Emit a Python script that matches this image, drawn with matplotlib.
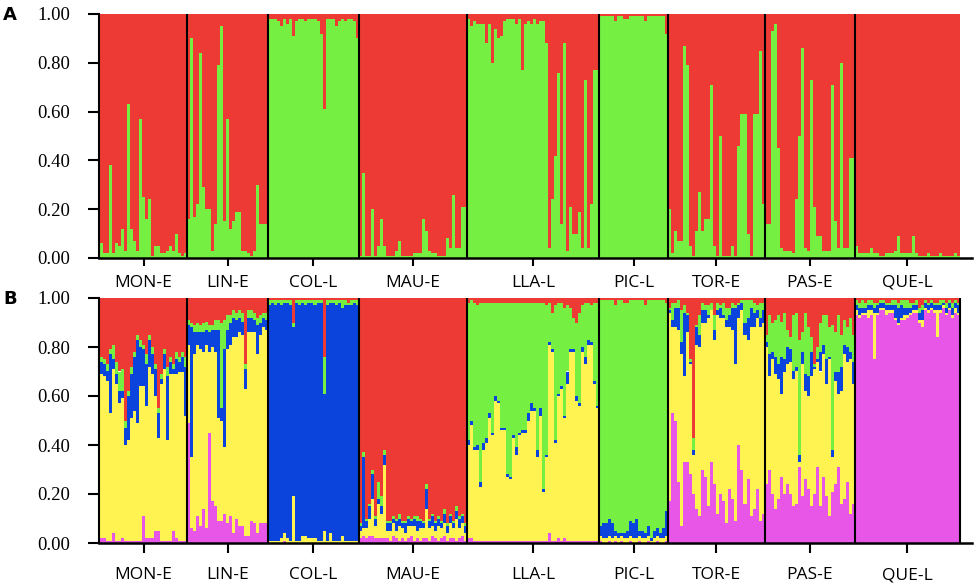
import numpy as np
import matplotlib
matplotlib.use("Agg")
import matplotlib.pyplot as plt

populations = ["MON-E", "LIN-E", "COL-L", "MAU-E", "LLA-L", "PIC-L", "TOR-E", "PAS-E", "QUE-L"]

# Panel A (K=2): green share per individual in %, red is the rest
mon_a = [6, 2, 2, 38, 2, 6, 5, 12, 3, 63, 12, 7, 3, 57, 25, 16, 24, 1, 5, 5, 2, 2, 3, 5, 3, 10, 2, 1, 2]
lin_a = [16, 90, 17, 22, 84, 29, 20, 20, 3, 14, 79, 95, 15, 57, 12, 15, 19, 19, 3, 3, 2, 1, 3, 30, 14, 14, 14]
col_a = [98, 98, 98, 97, 95, 98, 96, 98, 91, 97, 98, 98, 97, 98, 98, 98, 97, 92, 61, 98,
         98, 98, 95, 97, 98, 97, 98, 98, 97, 90]
mau_a = [1, 35, 1, 1, 20, 1, 5, 16, 5, 1, 1, 1, 3, 7, 1, 1, 1, 1, 2, 2,
         2, 16, 11, 3, 2, 2, 1, 1, 1, 8, 4, 26, 4, 4, 21, 21]
lla_a = [98, 95, 97, 96, 96, 96, 88, 96, 80, 94, 90, 91, 97, 98, 98, 98, 96, 98, 77, 96,
         97, 96, 98, 96, 97, 97, 88, 4, 24, 42, 76, 14, 88, 3, 21, 10, 10, 19, 4, 73,
         4, 22, 77, 77]
pic_a = [99, 99, 99, 99, 99, 97, 99, 99, 98, 98, 99, 99, 99, 99, 99, 97, 99, 99, 99, 99, 99, 99, 92]
tor_a = [20, 2, 11, 7, 7, 87, 79, 5, 1, 11, 27, 11, 16, 16, 71, 5, 1, 50, 1, 1,
         1, 5, 1, 46, 59, 59, 10, 1, 59, 59, 85, 22]
pas_a = [14, 14, 93, 96, 45, 4, 3, 3, 3, 2, 24, 50, 86, 4, 3, 73, 21, 9, 9, 3,
         3, 3, 71, 15, 4, 80, 4, 4, 41, 41]
que_a = [5, 2, 2, 2, 2, 4, 2, 2, 1, 1, 2, 2, 2, 3, 9, 2, 2, 2, 2, 9,
         2, 1, 1, 1, 2, 1, 1, 1, 2, 1, 1, 1, 1, 2, 1]

# Panel B (K=5): cluster shares in %, the cluster in fill_b takes the rest
mon_b = dict(
    red=[24, 25, 27, 21, 19, 26, 30, 29, 50, 38, 28, 22, 15, 17, 19, 23, 15, 20, 27, 45, 31, 21, 28, 24, 27, 22, 24, 22, 24],
    green=[2, 2, 3, 2, 6, 5, 8, 9, 3, 2, 3, 2, 2, 3, 2, 4, 2, 3, 2, 2, 2, 2, 4, 2, 2, 3, 2, 2, 4],
    blue=[5, 5, 4, 24, 4, 4, 5, 3, 7, 18, 18, 22, 34, 16, 15, 17, 11, 8, 11, 10, 2, 6, 26, 5, 2, 6, 4, 6, 20],
    magenta=[2, 2, 1, 1, 4, 1, 1, 2, 1, 1, 1, 1, 1, 1, 11, 2, 2, 2, 5, 5, 1, 1, 1, 1, 5, 2, 1, 1, 1],
)
lin_b = dict(
    red=[9, 10, 11, 10, 11, 10, 10, 11, 11, 9, 9, 10, 9, 7, 7, 5, 6, 5, 6, 27, 5, 5, 6, 8, 7, 6, 6],
    green=[2, 2, 3, 4, 3, 4, 3, 3, 2, 4, 4, 35, 12, 6, 3, 3, 3, 3, 4, 2, 3, 3, 3, 3, 3, 2, 3],
    blue=[8, 53, 9, 5, 7, 8, 6, 8, 7, 9, 36, 5, 40, 8, 9, 8, 7, 6, 5, 8, 6, 6, 5, 12, 5, 4, 4],
    magenta=[49, 6, 5, 11, 7, 14, 6, 45, 17, 15, 9, 9, 12, 8, 11, 4, 10, 7, 7, 3, 3, 9, 8, 4, 8, 8, 8],
)
col_b = dict(
    red=[1, 1, 1, 1, 1, 1, 1, 1, 10, 1, 1, 1, 1, 1, 1, 1, 1, 1, 24, 1, 1, 1, 1, 1, 1, 1, 2, 1, 1, 1],
    green=[2, 1, 2, 1, 2, 1, 1, 2, 2, 1, 2, 1, 2, 1, 1, 2, 1, 1, 15, 2, 1, 1, 2, 1, 3, 2, 1, 2, 1, 2],
    yellow=[1, 1, 1, 1, 2, 3, 2, 1, 19, 1, 1, 3, 3, 2, 2, 2, 1, 1, 5, 1, 4, 1, 1, 1, 3, 1, 1, 1, 1, 1],
    magenta=[0, 0, 0, 0, 0, 1, 0, 0, 0, 0, 0, 0, 0, 0, 0, 0, 0, 0, 0, 0, 0, 0, 0, 0, 0, 0, 0, 0, 0, 0],
)
mau_b = dict(
    green=[1, 2, 1, 1, 2, 1, 7, 4, 2, 1, 1, 1, 1, 2, 1, 1, 1, 1, 1, 2, 1, 1, 2, 1, 1, 1, 1, 1, 2, 1, 1, 1, 2, 1, 1, 1],
    blue=[2, 29, 3, 5, 10, 3, 2, 3, 4, 3, 3, 2, 4, 3, 2, 4, 3, 2, 3, 4, 3, 2, 8, 3, 4, 3, 3, 2, 4, 3, 3, 2, 3, 4, 3, 3],
    yellow=[3, 3, 4, 7, 15, 5, 14, 10, 30, 3, 4, 5, 3, 6, 4, 3, 5, 4, 6, 3, 5, 4, 12, 5, 4, 3, 6, 4, 5, 3, 6, 4, 9, 4, 5, 3],
    magenta=[2, 3, 2, 3, 3, 2, 2, 2, 2, 2, 1, 3, 2, 1, 2, 1, 2, 3, 1, 2, 1, 2, 2, 1, 3, 2, 1, 2, 3, 1, 2, 2, 1, 2, 3, 1],
)
lla_b = dict(
    red=[2, 1, 2, 3, 2, 2, 2, 2, 2, 2, 2, 2, 2, 2, 2, 2, 2, 2, 2, 2, 2, 2,
         2, 2, 2, 2, 3, 2, 6, 3, 2, 2, 4, 3, 4, 8, 10, 6, 3, 2, 2, 3, 2, 2],
    blue=[2, 2, 1, 2, 2, 3, 2, 2, 1, 2, 1, 1, 1, 1, 1, 1, 3, 1, 1, 1, 3, 3,
          1, 3, 3, 1, 1, 1, 1, 1, 1, 1, 1, 5, 1, 1, 2, 1, 2, 3, 2, 1, 1, 1],
    yellow=[38, 46, 37, 37, 22, 37, 40, 50, 43, 57, 56, 45, 45, 26, 25, 42, 35, 43, 44, 44, 49, 53,
            53, 34, 51, 20, 34, 77, 77, 40, 58, 62, 49, 64, 77, 77, 57, 55, 77, 72, 80, 80, 64, 54],
    magenta=[2, 2, 1, 1, 1, 1, 1, 1, 1, 1, 1, 1, 1, 1, 1, 1, 1, 1, 1, 1, 1, 1,
             1, 1, 1, 1, 1, 4, 1, 1, 2, 1, 2, 1, 1, 1, 1, 1, 1, 1, 1, 1, 1, 1],
)
pic_b = dict(
    red=[1, 1, 1, 1, 1, 3, 1, 1, 2, 2, 1, 1, 1, 1, 1, 3, 1, 1, 1, 1, 1, 1, 2],
    blue=[4, 6, 6, 7, 6, 2, 2, 1, 2, 3, 6, 6, 8, 2, 3, 2, 4, 1, 3, 3, 2, 4, 10],
    yellow=[2, 2, 2, 2, 2, 2, 2, 2, 2, 2, 2, 2, 2, 2, 2, 2, 2, 1, 2, 2, 2, 2, 2],
    magenta=[1, 0, 0, 1, 0, 1, 0, 1, 0, 0, 1, 0, 0, 1, 0, 0, 1, 0, 0, 1, 0, 0, 1],
)
tor_b = dict(
    red=[4, 2, 2, 1, 5, 3, 6, 25, 57, 11, 7, 2, 3, 3, 2, 7, 2, 3, 2, 4, 4, 2, 3, 2, 1, 1, 1, 1, 2, 3, 2, 2],
    green=[1, 7, 2, 3, 13, 3, 1, 1, 5, 1, 8, 3, 2, 4, 3, 6, 3, 1, 5, 5, 3, 2, 1, 1, 1, 9, 7, 3, 4, 2, 6, 3],
    blue=[1, 3, 8, 9, 5, 26, 7, 1, 2, 7, 5, 5, 5, 1, 0, 4, 2, 4, 1, 3, 5, 9, 23, 5, 3, 5, 9, 8, 6, 3, 4, 5],
    magenta=[17, 53, 50, 25, 7, 33, 33, 28, 20, 14, 11, 30, 27, 15, 33, 24, 12, 20, 17, 8,
             22, 18, 9, 40, 30, 16, 26, 11, 14, 22, 9, 12],
)
pas_b = dict(
    red=[15, 7, 10, 9, 7, 10, 6, 13, 16, 7, 6, 17, 14, 6, 12, 16, 27, 20, 10, 7, 7, 12, 11, 14, 7, 15, 9, 12, 8, 15],
    green=[3, 16, 12, 15, 20, 14, 19, 7, 5, 23, 22, 47, 8, 25, 20, 6, 1, 5, 12, 12, 18, 12, 51, 16, 23, 13, 10, 8, 14, 11],
    blue=[2, 9, 3, 7, 6, 15, 5, 7, 5, 3, 2, 3, 5, 7, 8, 10, 1, 1, 8, 4, 10, 1, 3, 4, 9, 10, 4, 6, 3, 9],
    magenta=[24, 30, 20, 14, 18, 27, 20, 24, 20, 15, 16, 31, 19, 26, 22, 15, 20, 31, 15, 27,
             19, 11, 21, 24, 31, 16, 18, 25, 12, 16],
)
que_b = dict(
    red=[1, 2, 1, 2, 1, 1, 2, 2, 1, 1, 2, 2, 1, 1, 2, 1, 1, 1, 2, 2, 1, 4, 3, 1, 2, 1, 2, 2, 1, 1, 2, 1, 2, 1, 2],
    green=[2, 2, 3, 2, 2, 2, 2, 1, 1, 1, 1, 1, 2, 2, 2, 2, 3, 3, 2, 1, 2, 2, 2, 1, 1, 1, 1, 1, 2, 1, 2, 1, 2, 1, 1],
    blue=[2, 3, 2, 2, 2, 2, 2, 3, 2, 2, 2, 2, 2, 5, 6, 5, 3, 3, 2, 2, 2, 3, 4, 2, 2, 2, 2, 2, 2, 1, 2, 2, 3, 2, 3],
    yellow=[2, 1, 1, 1, 3, 2, 19, 1, 1, 1, 2, 1, 1, 1, 1, 1, 2, 1, 1, 1, 1, 1, 3, 1, 1, 1, 1, 11, 1, 1, 1, 1, 1, 2, 1],
)
fill_b = ["yellow", "yellow", "blue", "red", "green", "green", "yellow", "yellow", "magenta"]

panel_a = [mon_a, lin_a, col_a, mau_a, lla_a, pic_a, tor_a, pas_a, que_a]
panel_b = [mon_b, lin_b, col_b, mau_b, lla_b, pic_b, tor_b, pas_b, que_b]

colors = {
    "magenta": "#E856E8",
    "yellow": "#FFF352",
    "blue": "#0A44DC",
    "green": "#74EF42",
    "red": "#EE3A35",
}
order = ["magenta", "yellow", "blue", "green", "red"]  # bottom to top

sizes = [len(p) for p in panel_a]
N = sum(sizes)
edges = np.concatenate([[0], np.cumsum(sizes)])
centers = (edges[:-1] + edges[1:]) / 2

# panel A shares
green_a = np.concatenate(panel_a) / 100.0
shares_a = {"green": green_a, "red": 1 - green_a}

# panel B shares, normalised per individual
shares_b = {k: [] for k in order}
for pop, fill, n in zip(panel_b, fill_b, sizes):
    known = {k: np.array(v, dtype=float) for k, v in pop.items()}
    rest = 100 - sum(known.values())
    known[fill] = np.clip(rest, 0, None)
    total = sum(known.get(k, np.zeros(n)) for k in order)
    for k in order:
        shares_b[k].append(known.get(k, np.zeros(n)) / total)
shares_b = {k: np.concatenate(v) for k, v in shares_b.items()}

W, H = 976, 588
fig = plt.figure(figsize=(W / 100, H / 100), dpi=100)
px_per = (960 - 100) / N


def make_axes(top, bottom):
    ax = fig.add_axes([99 / W, 1 - bottom / H, (972 - 99) / W, (bottom - top) / H])
    ax.set_xlim(-1 / px_per, N + 12 / px_per)
    ax.set_ylim(0, 1)
    return ax


def draw(ax, shares, keys, tick_len, label_pad, right_line):
    x = np.arange(N)
    base = np.zeros(N)
    for k in keys:
        h = shares[k]
        ax.bar(x, h, bottom=base, width=1.0, align="edge", color=colors[k],
               linewidth=0, antialiased=False)
        base = base + h
    last = edges[1:] if right_line else edges[1:-1]
    for e in last:
        ax.axvline(e, color="black", lw=1.5)
    for s in ["top", "right"]:
        ax.spines[s].set_visible(False)
    ax.spines["left"].set_linewidth(1.5)
    ax.spines["bottom"].set_linewidth(1.8)
    ax.set_yticks([0, 0.2, 0.4, 0.6, 0.8, 1.0])
    ax.set_yticklabels(["0.00", "0.20", "0.40", "0.60", "0.80", "1.00"])
    ax.tick_params(axis="y", length=8, width=1.5, pad=13, labelsize=13.5,
                   labelfontfamily="Liberation Serif")
    ax.set_xticks(centers)
    ax.set_xticklabels(populations)
    ax.tick_params(axis="x", length=tick_len, width=1.5, pad=label_pad, labelsize=12.5,
                   labelfontfamily="Open Sans")


ax_a = make_axes(14, 258)
draw(ax_a, shares_a, ["green", "red"], 6, 6, False)

ax_b = make_axes(298, 543)
draw(ax_b, shares_b, order, 7.5, 10, True)

fig.text(10 / W, 1 - 15 / H, "A", fontsize=13, fontweight="bold", ha="center", va="center",
         family="DejaVu Sans")
fig.text(10 / W, 1 - 299 / H, "B", fontsize=13, fontweight="bold", ha="center", va="center",
         family="DejaVu Sans")

fig.savefig("out.png", dpi=100)
